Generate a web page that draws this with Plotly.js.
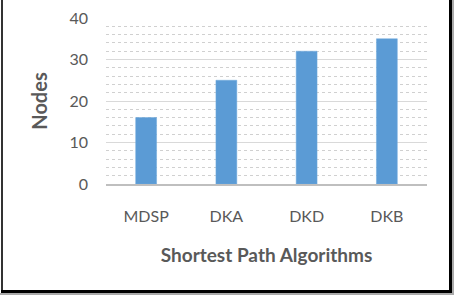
<!DOCTYPE html>
<html>
<head>
<meta charset="utf-8">
<script src="https://cdn.plot.ly/plotly-3.0.1.min.js"></script>
<style>
  html, body { margin: 0; padding: 0; background: #fff; }
  #wrap { position: relative; width: 454px; height: 295px; overflow: hidden; }
  #chart { position: absolute; left: 0; top: 0; width: 454px; height: 295px; }
  .b { position: absolute; background: #000; }
</style>
</head>
<body>
<div id="wrap">
  <div id="chart"></div>
  <div class="b" style="left:1px;top:0;width:2px;height:293px;background:#333;"></div>
  <div class="b" style="left:449px;top:0;width:3px;height:293px;"></div>
  <div class="b" style="left:1px;top:290px;width:451px;height:3px;"></div>
  <div class="b" style="left:452px;top:0;width:2px;height:295px;background:#aaa;"></div>
  <div class="b" style="left:0;top:293px;width:454px;height:2px;background:#aaa;"></div>
</div>
<script>
const categories = ["MDSP", "DKA", "DKD", "DKB"];
const nodes = [16, 25, 32, 35];
const yTicks = [0, 10, 20, 30, 40];

const fontFam = "Lato, 'Open Sans', sans-serif";

Plotly.newPlot("chart", [{
  type: "bar",
  x: categories,
  y: nodes,
  marker: { color: "#5B9BD5", line: { color: "#6FA8DC", width: 0.5 } },
  hoverinfo: "none"
}], {
  width: 454, height: 295,
  margin: { l: 106, r: 27, t: 18, b: 111, pad: 0 },
  paper_bgcolor: "#fff",
  plot_bgcolor: "#fff",
  bargap: 0.74,
  showlegend: false,
  font: { family: fontFam, color: "#595959", size: 16 },
  xaxis: {
    type: "category",
    showgrid: false,
    showline: true,
    linecolor: "#BFBFBF",
    linewidth: 2,
    ticks: "",
    ticklabelstandoff: 17,
    tickfont: { size: 16, color: "#595959" },
    title: { text: "Shortest Path Algorithms", font: { size: 19, color: "#595959", weight: "bold" }, standoff: 24 }
  },
  yaxis: {
    range: [0, 40],
    tickvals: yTicks,
    showgrid: true,
    gridcolor: "#D9D9D9",
    gridwidth: 1,
    zeroline: false,
    showline: false,
    ticks: "",
    ticklabelstandoff: 17,
    tickfont: { size: 16, color: "#595959" },
    minor: { dtick: 2, showgrid: true, gridcolor: "#D0D0D0", griddash: "dot", gridwidth: 1 },
    title: { text: "Nodes", font: { size: 20, color: "#595959", weight: "bold" }, standoff: 16 }
  }
}, { displayModeBar: false, staticPlot: true });
</script>
</body>
</html>
